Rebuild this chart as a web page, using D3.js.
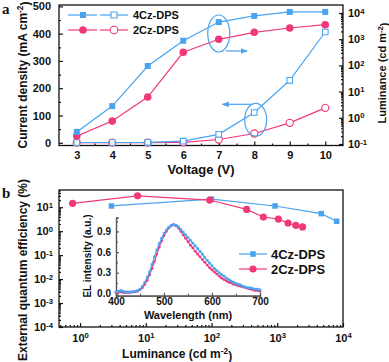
<!DOCTYPE html>
<html><head><meta charset="utf-8">
<script src="https://cdn.jsdelivr.net/npm/d3@7"></script>
<style>
body{margin:0;background:#fff}
svg text{font-family:"Liberation Sans",Arial,sans-serif;font-weight:bold;fill:#111}
</style></head><body>
<svg id="chart" width="389" height="362"></svg>
<script>
// ---- panel a data ----
var voltage = [3, 4, 5, 6, 7, 8, 9, 10];
var lum4Cz = [0.29, 2.8, 95, 870, 4500, 7700, 11000, 11000];   // filled, right axis
var lum2Cz = [0.2, 0.75, 6.2, 316, 990, 1830, 2670, 3570];
var cur4Cz = [1, 1, 1.5, 6, 31, 111, 229, 406];                // open, left axis
var cur2Cz = [0.5, 0.5, 0.7, 1.5, 12, 34, 73, 128];
var curTicks = [0, 100, 200, 300, 400, 500];
var lumTicks = [0.1, 1, 10, 100, 1000, 10000];

// ---- panel b data ----
var eqeLum4Cz = [3.0, 100, 925, 4670, 8000];
var eqe4Cz = [11.3, 21.9, 11.3, 5.4, 2.6];
var eqeLum2Cz = [0.77, 7.5, 94, 342, 615, 1040, 1460, 1915, 2425];
var eqe2Cz = [14.6, 29.9, 20, 8.1, 3.9, 3.2, 2.2, 1.76, 1.51];
var eqeTicks = [0.0001, 0.001, 0.01, 0.1, 1, 10];
var bLumTicks = [1, 10, 100, 1000, 10000];

// ---- inset EL spectra ----
var wavelength = [400,405,410,415,420,425,430,435,440,445,450,455,460,465,470,475,480,485,490,495,
  500,505,510,515,520,525,530,535,540,545,550,555,560,565,570,575,580,585,590,595,
  600,605,610,615,620,625,630,635,640,645,650,655,660,665,670,675,680,685,690,695,700];
var el4Cz = [0.02,0.03,0.04,0.03,0.02,0.02,0.02,0.02,0.03,0.04,0.06,0.10,0.16,0.23,0.31,0.42,0.53,0.63,0.72,0.80,
  0.87,0.92,0.96,0.99,1.00,0.99,0.97,0.93,0.89,0.85,0.81,0.77,0.73,0.69,0.65,0.61,0.57,0.52,0.48,0.44,
  0.40,0.36,0.33,0.30,0.27,0.25,0.22,0.20,0.18,0.16,0.14,0.13,0.12,0.10,0.09,0.08,0.08,0.07,0.06,0.06,0.05];
var el2Cz = [0.01,0.01,0.02,0.01,0.01,0.01,0.01,0.02,0.02,0.03,0.05,0.08,0.13,0.19,0.27,0.36,0.46,0.57,0.67,0.76,
  0.84,0.90,0.95,0.98,1.00,0.98,0.95,0.90,0.85,0.80,0.75,0.70,0.66,0.61,0.57,0.53,0.49,0.45,0.41,0.37,
  0.34,0.31,0.28,0.25,0.22,0.20,0.18,0.16,0.15,0.13,0.12,0.11,0.10,0.09,0.08,0.07,0.06,0.05,0.04,0.04,0.03];
var elTicks = [0, 0.3, 0.6, 0.9];
var wlTicks = [400, 500, 600, 700];

var blue = '#4aa3ef', pink = '#f0397a', ink = '#111';
var svg = d3.select('#chart');

function zip(xs, ys) { return xs.map(function(v, i) { return [v, ys[i]]; }); }

function supLabels(g) {
  g.selectAll('.tick text').each(function(d) {
    var e = Math.round(Math.log10(d));
    var t = d3.select(this).text(null);
    t.append('tspan').text('10');
    t.append('tspan').attr('dy', '-0.45em').attr('font-size', '0.7em').text(e);
  });
}
function minors(lo, hi) {
  var out = [];
  for (var p = lo; p < hi; p++) for (var k = 2; k <= 9; k++) out.push(k * Math.pow(10, p));
  return out;
}
function styleAxis(g, size) {
  g.selectAll('text').attr('font-size', size).style('fill', ink);
  g.selectAll('line,path').attr('stroke', ink).attr('stroke-width', 1.2);
}

function series(g, pts, x, y, color, shape, filled, r) {
  g.append('path').datum(pts)
    .attr('d', d3.line().x(function(d) { return x(d[0]); }).y(function(d) { return y(d[1]); }))
    .attr('fill', 'none').attr('stroke', color).attr('stroke-width', 1.2);
  var sym = d3.symbol().type(shape === 'sq' ? d3.symbolSquare : d3.symbolCircle).size(shape === 'sq' ? r * r : Math.PI * r * r);
  g.selectAll(null).data(pts).enter().append('path')
    .attr('d', sym)
    .attr('transform', function(d) { return 'translate(' + x(d[0]) + ',' + y(d[1]) + ')'; })
    .attr('fill', filled ? color : '#fff')
    .attr('stroke', color).attr('stroke-width', filled ? 0 : 1.1);
}

// ================= panel a =================
var L = 59, R = 343;
var xa = d3.scaleLinear().domain([2.5, 10.5]).range([L, R]);
var ya = d3.scaleLinear().domain([-10, 505]).range([145.5, 5]);
var yl = d3.scaleLog().domain([Math.pow(10, -1.057), Math.pow(10, 4.305)]).range([145.5, 5]);

var ga = svg.append('g');
ga.append('rect').attr('x', L).attr('y', 5).attr('width', R - L).attr('height', 140.5)
  .attr('fill', 'none').attr('stroke', ink).attr('stroke-width', 1.3);

ga.append('g').attr('transform', 'translate(0,145.5)')
  .call(d3.axisBottom(xa).tickValues(voltage).tickSize(-4).tickPadding(6).tickFormat(d3.format('d')))
  .call(styleAxis, 11);
ga.append('g').attr('transform', 'translate(0,145.5)')
  .call(d3.axisBottom(xa).tickValues([3.5, 4.5, 5.5, 6.5, 7.5, 8.5, 9.5]).tickSize(-2).tickFormat(''))
  .call(styleAxis, 11);
ga.append('g').attr('transform', 'translate(' + L + ',0)')
  .call(d3.axisLeft(ya).tickValues(curTicks).tickSize(-4).tickPadding(8))
  .call(styleAxis, 11);
ga.append('g').attr('transform', 'translate(' + L + ',0)')
  .call(d3.axisLeft(ya).tickValues([50, 150, 250, 350, 450]).tickSize(-2).tickFormat(''))
  .call(styleAxis, 11);
ga.append('g').attr('transform', 'translate(' + R + ',0)')
  .call(d3.axisRight(yl).tickValues(lumTicks).tickSize(-4).tickPadding(5))
  .call(supLabels).call(styleAxis, 11);
ga.append('g').attr('transform', 'translate(' + R + ',0)')
  .call(d3.axisRight(yl).tickValues(minors(-1, 4)).tickSize(-2).tickFormat(''))
  .call(styleAxis, 11);
ga.selectAll('.domain').attr('stroke', 'none');

series(ga, zip(voltage, cur2Cz), xa, ya, pink, 'ci', false, 3.6);
series(ga, zip(voltage, cur4Cz), xa, ya, blue, 'sq', false, 5.6);
series(ga, zip(voltage, lum2Cz), xa, yl, pink, 'ci', true, 3.8);
series(ga, zip(voltage, lum4Cz), xa, yl, blue, 'sq', true, 6);

// annotations
var defs = svg.append('defs');
defs.append('marker').attr('id', 'ah').attr('viewBox', '0 0 10 10').attr('refX', 9).attr('refY', 5)
  .attr('markerWidth', 6).attr('markerHeight', 6).attr('orient', 'auto')
  .append('path').attr('d', 'M0,1L10,5L0,9Z').attr('fill', blue);
ga.append('ellipse').attr('cx', xa(7)).attr('cy', 33.5).attr('rx', 11).attr('ry', 18.5)
  .attr('fill', 'none').attr('stroke', blue).attr('stroke-width', 1.2);
ga.append('line').attr('x1', xa(7.2)).attr('x2', xa(7.8)).attr('y1', 51).attr('y2', 51)
  .attr('stroke', blue).attr('stroke-width', 1.2).attr('marker-end', 'url(#ah)');
ga.append('ellipse').attr('cx', xa(8.04)).attr('cy', 119.7).attr('rx', 11).attr('ry', 16.4)
  .attr('fill', 'none').attr('stroke', blue).attr('stroke-width', 1.2);
ga.append('line').attr('x1', xa(7.9)).attr('x2', xa(7.1)).attr('y1', 104.3).attr('y2', 104.3)
  .attr('stroke', blue).attr('stroke-width', 1.2).attr('marker-end', 'url(#ah)');

// legend a
[[blue, 'sq', '4Cz-DPS', 15], [pink, 'ci', '2Cz-DPS', 30]].forEach(function(it) {
  var y0 = it[3];
  [[68, 97, 83], [100, 128, 114]].forEach(function(seg, j) {
    ga.append('line').attr('x1', seg[0]).attr('x2', seg[1]).attr('y1', y0).attr('y2', y0)
      .attr('stroke', it[0]).attr('stroke-width', 1.2);
    var r = it[1] === 'sq' ? 6 : 3.8;
    ga.append('path').attr('d', d3.symbol().type(it[1] === 'sq' ? d3.symbolSquare : d3.symbolCircle).size(it[1] === 'sq' ? r * r : Math.PI * r * r))
      .attr('transform', 'translate(' + seg[2] + ',' + y0 + ')')
      .attr('fill', j === 0 ? it[0] : '#fff').attr('stroke', it[0]).attr('stroke-width', j === 0 ? 0 : 1.1);
  });
  ga.append('text').attr('x', 133).attr('y', y0 + 4).attr('font-size', 11).text(it[2]);
});

ga.append('text').attr('x', xa(6.5)).attr('y', 174).attr('text-anchor', 'middle').attr('font-size', 13).text('Voltage (V)');
ga.append('text').attr('transform', 'translate(27,75) rotate(-90)').attr('text-anchor', 'middle').attr('font-size', 12)
  .html('Current density (mA cm<tspan dy="-0.45em" font-size="0.7em">-2</tspan><tspan dy="0.45em">)</tspan>');
ga.append('text').attr('transform', 'translate(386,73) rotate(-90)').attr('text-anchor', 'middle').attr('font-size', 11)
  .html('Luminance (cd m<tspan dy="-0.45em" font-size="0.7em">-2</tspan><tspan dy="0.45em">)</tspan>');
svg.append('text').attr('x', 2).attr('y', 14).attr('font-size', 15).style('font-family', '"Liberation Serif",serif').text('a');
svg.append('text').attr('x', 2).attr('y', 198).attr('font-size', 15).style('font-family', '"Liberation Serif",serif').text('b');

// ================= panel b =================
var Tb = 190, Bb = 327;
var xb = d3.scaleLog().domain([Math.pow(10, -0.32), 10000]).range([L, R]);
var yb = d3.scaleLog().domain([0.0001, Math.pow(10, 1.72)]).range([Bb, Tb]);
var gb = svg.append('g');
gb.append('rect').attr('x', L).attr('y', Tb).attr('width', R - L).attr('height', Bb - Tb)
  .attr('fill', 'none').attr('stroke', ink).attr('stroke-width', 1.3);
gb.append('g').attr('transform', 'translate(0,' + Bb + ')')
  .call(d3.axisBottom(xb).tickValues(bLumTicks).tickSize(-4).tickPadding(7))
  .call(supLabels).call(styleAxis, 11);
gb.append('g').attr('transform', 'translate(0,' + Bb + ')')
  .call(d3.axisBottom(xb).tickValues([0.5, 0.6, 0.7, 0.8, 0.9].concat(minors(0, 4))).tickSize(-2).tickFormat(''))
  .call(styleAxis, 11);
gb.append('g').attr('transform', 'translate(' + L + ',0)')
  .call(d3.axisLeft(yb).tickValues(eqeTicks).tickSize(-4).tickPadding(6))
  .call(supLabels).call(styleAxis, 11);
gb.append('g').attr('transform', 'translate(' + L + ',0)')
  .call(d3.axisLeft(yb).tickValues(minors(-4, 1).concat([20, 30, 40, 50])).tickSize(-2).tickFormat(''))
  .call(styleAxis, 11);
gb.selectAll('.domain').attr('stroke', 'none');

series(gb, zip(eqeLum4Cz, eqe4Cz), xb, yb, blue, 'sq', true, 5.5);
series(gb, zip(eqeLum2Cz, eqe2Cz), xb, yb, pink, 'ci', true, 3.6);

[[blue, 'sq', '4Cz-DPS', 254], [pink, 'ci', '2Cz-DPS', 269]].forEach(function(it) {
  gb.append('line').attr('x1', 239).attr('x2', 267).attr('y1', it[3]).attr('y2', it[3])
    .attr('stroke', it[0]).attr('stroke-width', 1.2);
  var r = it[1] === 'sq' ? 5.5 : 3.6;
  gb.append('path').attr('d', d3.symbol().type(it[1] === 'sq' ? d3.symbolSquare : d3.symbolCircle).size(it[1] === 'sq' ? r * r : Math.PI * r * r))
    .attr('transform', 'translate(253,' + it[3] + ')').attr('fill', it[0]);
  gb.append('text').attr('x', 271).attr('y', it[3] + 4.5).attr('font-size', 13).text(it[2]);
});

gb.append('text').attr('x', xb(30)).attr('y', 358).attr('text-anchor', 'middle').attr('font-size', 12)
  .html('Luminance (cd m<tspan dy="-0.45em" font-size="0.7em">-2</tspan><tspan dy="0.45em">)</tspan>');
gb.append('text').attr('transform', 'translate(27,270) rotate(-90)').attr('text-anchor', 'middle').attr('font-size', 12)
  .text('External quantum efficiency (%)');

// ---- inset ----
var xi = d3.scaleLinear().domain([400, 700]).range([116, 260]);
var yi = d3.scaleLinear().domain([-0.035, 1.1]).range([295.7, 217.7]);
var gi = svg.append('g');
var axc = '#555';
gi.append('g').attr('transform', 'translate(0,295.7)')
  .call(d3.axisBottom(xi).tickValues(wlTicks).tickSize(-3).tickPadding(2))
  .call(styleAxis, 10);
gi.append('g').attr('transform', 'translate(0,295.7)')
  .call(d3.axisBottom(xi).tickValues([450, 550, 650]).tickSize(-2).tickFormat(''))
  .call(styleAxis, 10);
gi.append('g').attr('transform', 'translate(116,0)')
  .call(d3.axisLeft(yi).tickValues(elTicks).tickSize(-3).tickPadding(5).tickFormat(d3.format('.1f')))
  .call(styleAxis, 10);
gi.append('g').attr('transform', 'translate(116,0)')
  .call(d3.axisLeft(yi).tickValues([0.15, 0.45, 0.75, 1.05]).tickSize(-2).tickFormat(''))
  .call(styleAxis, 10);
gi.selectAll('line,path').attr('stroke', axc);

series(gi, zip(wavelength, el2Cz), xi, yi, pink, 'ci', true, 1.4);
series(gi, zip(wavelength, el4Cz), xi, yi, blue, 'sq', true, 2.6);

gi.append('text').attr('x', xi(550)).attr('y', 319).attr('text-anchor', 'middle').attr('font-size', 11).text('Wavelength (nm)');
gi.append('text').attr('transform', 'translate(91,256) rotate(-90)').attr('text-anchor', 'middle').attr('font-size', 10)
  .text('EL intensity (a.u.)');
</script>
</body></html>
